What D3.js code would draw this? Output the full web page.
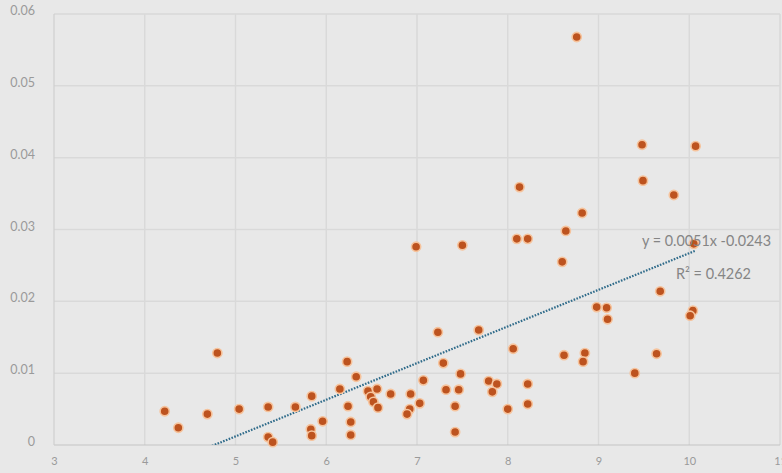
<!DOCTYPE html>
<html><head><meta charset="utf-8">
<script src="https://cdn.jsdelivr.net/npm/d3@7"></script>
<style>
html,body{margin:0;padding:0;background:#e8e8e8;}
svg{display:block;}
text{font-family:Lato,"Open Sans",sans-serif;}
</style></head><body>
<svg id="c" width="782" height="473"></svg>
<script>
const xValues = [4.22,4.37,4.69,4.80,5.04,5.36,5.36,5.41,5.66,5.84,5.83,5.84,5.96,6.15,6.23,6.33,6.24,6.27,6.27,6.46,6.56,6.49,6.52,6.57,6.71,6.93,6.92,6.89,7.03,7.07,7.23,7.29,7.48,7.32,7.46,7.42,7.42,7.68,8.06,7.79,7.88,7.83,8.00,8.22,8.22,8.62,8.85,8.83,9.40,9.64,8.13,8.82,8.64,8.10,8.22,6.99,7.50,8.60,8.98,9.09,9.10,8.76,9.48,10.07,9.49,9.83,10.05,9.68,10.04,10.01];
const yValues = [0.0047,0.0024,0.0043,0.0128,0.0050,0.0053,0.0011,0.0004,0.0053,0.0068,0.0022,0.0013,0.0033,0.0078,0.0116,0.0095,0.0054,0.0032,0.0014,0.0075,0.0078,0.0067,0.0060,0.0052,0.0071,0.0071,0.0050,0.0043,0.0058,0.0090,0.0157,0.0114,0.0099,0.0077,0.0077,0.0054,0.0018,0.0160,0.0134,0.0089,0.0085,0.0074,0.0050,0.0085,0.0057,0.0125,0.0128,0.0116,0.0100,0.0127,0.0359,0.0323,0.0298,0.0287,0.0287,0.0276,0.0278,0.0255,0.0192,0.0191,0.0175,0.0568,0.0418,0.0416,0.0368,0.0348,0.0280,0.0214,0.0187,0.0180];
const xTicks = [3,4,5,6,7,8,9,10,11];
const yTicks = [0,0.01,0.02,0.03,0.04,0.05,0.06];
const yTickLabels = ["0","0.01","0.02","0.03","0.04","0.05","0.06"];
const trend = {slope:0.0051, intercept:-0.0243};
const trendLabels = ["y = 0.0051x -0.0243","R\u00B2 = 0.4262"];

const svg = d3.select("#c");
const x = d3.scaleLinear().domain([3,11]).range([54,780]);
const y = d3.scaleLinear().domain([0,0.06]).range([445,14]);

svg.append("rect").attr("width",782).attr("height",473).attr("fill","#e8e8e8");

// gridlines
svg.append("g").selectAll("line").data(yTicks.slice(1)).join("line")
  .attr("x1",54).attr("x2",780).attr("y1",d=>y(d)).attr("y2",d=>y(d))
  .attr("stroke","#d9d9d9").attr("stroke-width",1.5);
svg.append("g").selectAll("line").data(xTicks.slice(1)).join("line")
  .attr("x1",d=>x(d)).attr("x2",d=>x(d)).attr("y1",14).attr("y2",445)
  .attr("stroke","#d9d9d9").attr("stroke-width",1.5);

// axis lines
svg.append("line").attr("x1",54).attr("x2",780).attr("y1",445).attr("y2",445).attr("stroke","#c4c4c4").attr("stroke-width",1.2);
svg.append("line").attr("x1",54).attr("x2",54).attr("y1",14).attr("y2",445).attr("stroke","#cfcfcf").attr("stroke-width",1.2);

// axis labels
const yAxis = d3.axisLeft(y).tickValues(yTicks).tickFormat((d,i)=>yTickLabels[i]).tickSize(0).tickPadding(0);
const gy = svg.append("g").attr("transform","translate(35,0)").call(yAxis);
gy.select(".domain").remove();
gy.selectAll("text").attr("fill","#9a9a9a").attr("font-size","12.5px").attr("dy","0.05em");

const xAxis = d3.axisBottom(x).tickValues(xTicks).tickFormat(d3.format("d")).tickSize(0).tickPadding(0);
const gx = svg.append("g").attr("transform","translate(0,457)").call(xAxis);
gx.select(".domain").remove();
gx.selectAll("text").attr("fill","#9a9a9a").attr("font-size","11px");

// trendline
svg.append("clipPath").attr("id","clip").append("rect").attr("x",54).attr("y",14).attr("width",726).attr("height",431);
const xmin = d3.min(xValues), xmax = d3.max(xValues);
const tl = d3.range(0,101).map(i=>{const xv=xmin+(xmax-xmin)*i/100; return [xv, trend.slope*xv+trend.intercept];});
svg.append("path").attr("clip-path","url(#clip)")
  .attr("d",d3.line().x(d=>x(d[0])).y(d=>y(d[1]))(tl))
  .attr("fill","none").attr("stroke","#2f6b8a").attr("stroke-width",2.2)
  .attr("stroke-dasharray","1.6 1.4");

// points
const pts = xValues.map((v,i)=>({x:v,y:yValues[i]}));
svg.append("g").selectAll("circle").data(pts).join("circle")
  .attr("cx",d=>x(d.x)).attr("cy",d=>y(d.y)).attr("r",4.6)
  .attr("fill","#bd531f").attr("stroke","#f6c39c").attr("stroke-width",1.6);

// trend labels
svg.append("text").attr("x",771).attr("y",246).attr("text-anchor","end")
  .attr("fill","#858585").attr("font-size","15px").attr("textLength",129).attr("lengthAdjust","spacingAndGlyphs").text(trendLabels[0]);
svg.append("text").attr("x",751).attr("y",279).attr("text-anchor","end")
  .attr("fill","#858585").attr("font-size","15px").attr("textLength",75).attr("lengthAdjust","spacingAndGlyphs").text(trendLabels[1]);
</script>
</body></html>
